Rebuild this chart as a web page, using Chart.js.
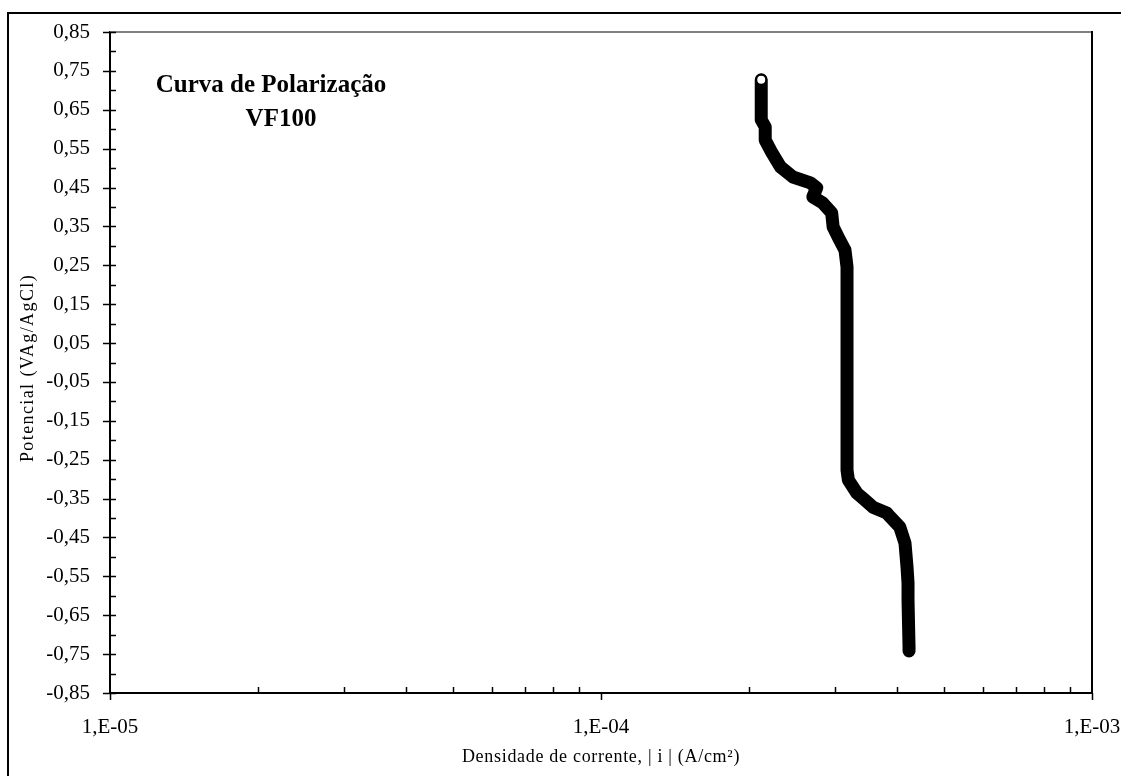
<!DOCTYPE html>
<html><head><meta charset="utf-8">
<script src="https://cdn.jsdelivr.net/npm/chart.js@4.4.1/dist/chart.umd.min.js"></script>
<style>html,body{margin:0;padding:0;background:#fff;overflow:hidden}#wrap{width:1121px;height:776px;position:relative}</style>
</head><body><div id="wrap"><canvas id="c" width="1121" height="776"></canvas></div>
<script>
// Potential (V vs Ag/AgCl), from cathodic to anodic end
const potential = [-0.742, -0.732, -0.611, -0.567, -0.526, -0.464, -0.423, -0.397, -0.387, -0.372, -0.354, -0.336, -0.302, -0.277, 0.179, 0.246, 0.289, 0.323, 0.349, 0.385, 0.410, 0.426, 0.449, 0.462, 0.477, 0.503, 0.539, 0.572, 0.606, 0.624, 0.727];
// |i| current density (A/cm²)
const currentDensity = [4.24e-4, 4.24e-4, 4.22e-4, 4.22e-4, 4.20e-4, 4.16e-4, 4.06e-4, 3.88e-4, 3.82e-4, 3.58e-4, 3.45e-4, 3.32e-4, 3.19e-4, 3.17e-4, 3.17e-4, 3.17e-4, 3.14e-4, 3.04e-4, 2.97e-4, 2.95e-4, 2.83e-4, 2.70e-4, 2.75e-4, 2.67e-4, 2.46e-4, 2.32e-4, 2.23e-4, 2.16e-4, 2.16e-4, 2.12e-4, 2.12e-4];
const yTickValues = [0.85, 0.75, 0.65, 0.55, 0.45, 0.35, 0.25, 0.15, 0.05, -0.05, -0.15, -0.25, -0.35, -0.45, -0.55, -0.65, -0.75, -0.85];
const xTickValues = [1e-5, 1e-4, 1e-3];
const xTickLabels = ['1,E-05', '1,E-04', '1,E-03'];
const chartTitleLines = ['Curva de Polarização', 'VF100'];
const xTitle = 'Densidade de corrente, | i | (A/cm²)';
const yTitle = 'Potencial (VAg/AgCl)';

const FONT = "'Liberation Serif', 'Times New Roman', serif";
const points = potential.map((p, i) => ({x: currentDensity[i], y: p}));
const lastIdx = points.length - 1;

const decor = {
  id: 'decor',
  afterDraw(chart) {
    const ctx = chart.ctx, a = chart.chartArea;
    const xs = chart.scales.x, ys = chart.scales.y;
    ctx.save();
    // outer frame
    ctx.strokeStyle = '#000'; ctx.lineWidth = 2;
    ctx.beginPath(); ctx.moveTo(8, 800); ctx.lineTo(8, 13); ctx.lineTo(1200, 13); ctx.stroke();
    // plot frame top (grey) and right (black)
    ctx.strokeStyle = '#808080'; ctx.lineWidth = 2;
    ctx.beginPath(); ctx.moveTo(a.left, a.top); ctx.lineTo(a.right, a.top); ctx.stroke();
    ctx.strokeStyle = '#000';
    ctx.beginPath(); ctx.moveTo(a.right, a.top - 1); ctx.lineTo(a.right, a.bottom); ctx.stroke();
    // y ticks
    ctx.lineWidth = 1.5; ctx.strokeStyle = '#000';
    yTickValues.forEach(v => {
      const py = Math.round(ys.getPixelForValue(v)) + 0.5;
      ctx.beginPath(); ctx.moveTo(a.left - 7, py); ctx.lineTo(a.left + 6, py); ctx.stroke();
    });
    for (let i = 0; i < yTickValues.length - 1; i++) {
      const v = (yTickValues[i] + yTickValues[i + 1]) / 2;
      const py = Math.round(ys.getPixelForValue(v)) + 0.5;
      ctx.beginPath(); ctx.moveTo(a.left, py); ctx.lineTo(a.left + 6, py); ctx.stroke();
    }
    // x ticks
    xTickValues.forEach(v => {
      const px = Math.round(xs.getPixelForValue(v)) + 0.5;
      ctx.beginPath(); ctx.moveTo(px, a.bottom); ctx.lineTo(px, a.bottom + 7); ctx.stroke();
    });
    for (let d = 0; d < xTickValues.length - 1; d++) {
      for (let m = 2; m <= 9; m++) {
        const px = Math.round(xs.getPixelForValue(xTickValues[d] * m)) + 0.5;
        ctx.beginPath(); ctx.moveTo(px, a.bottom); ctx.lineTo(px, a.bottom - 6); ctx.stroke();
      }
    }
    ctx.fillStyle = '#000';
    ctx.textAlign = 'center'; ctx.textBaseline = 'middle';
    // axis titles
    ctx.font = "18px " + FONT;
    ctx.letterSpacing = '0.7px';
    ctx.fillText(xTitle, (a.left + a.right) / 2, 757);
    ctx.save();
    ctx.translate(28, 368);
    ctx.rotate(-Math.PI / 2);
    ctx.letterSpacing = '1.4px';
    ctx.fillText(yTitle, 0, 0);
    ctx.restore();
    // chart title
    ctx.letterSpacing = '0px';
    ctx.font = "bold 25px " + FONT;
    ctx.fillText(chartTitleLines[0], 271, 86);
    ctx.fillText(chartTitleLines[1], 281, 120);
    ctx.restore();
  }
};

new Chart(document.getElementById('c'), {
  type: 'scatter',
  data: {
    datasets: [{
      data: points,
      showLine: true,
      borderColor: '#000',
      borderWidth: 13,
      borderCapStyle: 'round',
      borderJoinStyle: 'round',
      tension: 0,
      pointRadius: points.map((p, i) => i === lastIdx ? 5 : 0),
      pointBackgroundColor: '#fff',
      pointBorderColor: '#000',
      pointBorderWidth: 2,
      pointHoverRadius: 0
    }]
  },
  options: {
    responsive: false,
    animation: false,
    devicePixelRatio: 1,
    layout: {padding: {left: 0, top: 32, right: 29, bottom: 0}},
    plugins: {legend: {display: false}, tooltip: {enabled: false}, title: {display: false}},
    scales: {
      x: {
        type: 'logarithmic', position: 'bottom', min: 1e-5, max: 1e-3,
        afterBuildTicks: s => { s.ticks = xTickValues.map(v => ({value: v, major: true})); },
        afterFit: s => { s.height = 83; s.paddingLeft = 0; s.paddingRight = 0; },
        ticks: {
          autoSkip: false, maxRotation: 0, minRotation: 0, padding: 22, color: '#000',
          font: {family: FONT, size: 21},
          callback: v => xTickLabels[xTickValues.findIndex(t => Math.abs(Math.log10(t) - Math.log10(v)) < 1e-6)]
        },
        grid: {drawOnChartArea: false, drawTicks: false},
        border: {display: true, color: '#000', width: 2},
        title: {display: false}
      },
      y: {
        type: 'linear', position: 'left', min: -0.85, max: 0.85,
        afterBuildTicks: s => { s.ticks = yTickValues.map(v => ({value: v})); },
        afterFit: s => { s.width = 110; s.paddingTop = 0; s.paddingBottom = 0; },
        ticks: {
          autoSkip: false, padding: 20, color: '#000',
          font: {family: FONT, size: 21},
          callback: v => (Math.round(v * 100) / 100).toFixed(2).replace('.', ',')
        },
        grid: {drawOnChartArea: false, drawTicks: false},
        border: {display: true, color: '#000', width: 2},
        title: {display: false}
      }
    }
  },
  plugins: [decor]
});
</script>
</body></html>
